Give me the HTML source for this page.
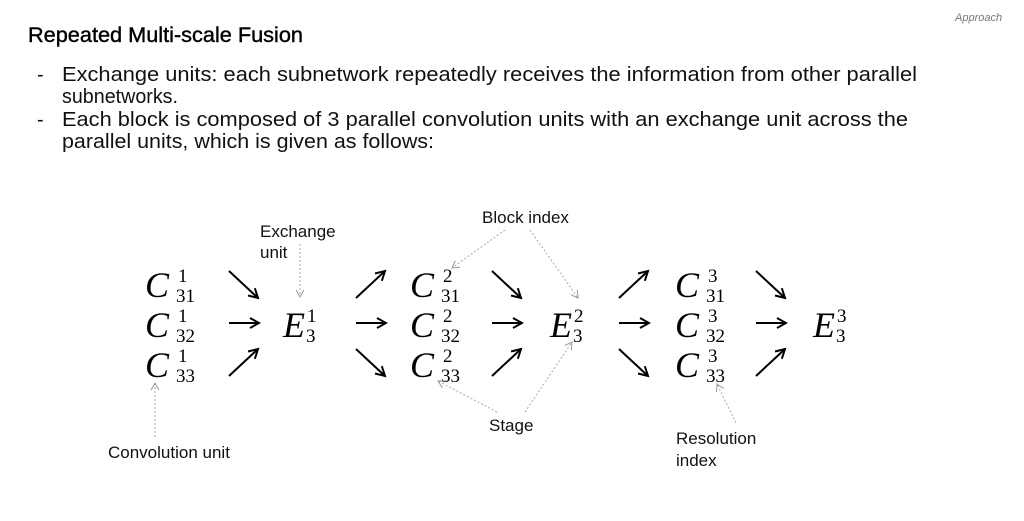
<!DOCTYPE html>
<html><head><meta charset="utf-8"><style>
html,body{margin:0;padding:0;background:#fff;width:1024px;height:521px;overflow:hidden}
svg{display:block}
.t{font-family:"Liberation Sans",sans-serif;fill:#111}
.m{font-family:"Liberation Serif","DejaVu Serif",serif;fill:#000}
.mc{font-style:italic;font-size:36px}
.ms{font-size:19px}
.a{stroke:#000;stroke-width:2;fill:none}
.d{stroke:#aaa;stroke-width:1;stroke-dasharray:2,2;fill:none}
</style></head><body>
<svg width="1024" height="521" viewBox="0 0 1024 521" xmlns="http://www.w3.org/2000/svg">
<defs>
<marker id="ah" markerWidth="12" markerHeight="12" refX="10" refY="6" orient="auto" markerUnits="userSpaceOnUse">
<path d="M1,1 L10,6 L1,11" stroke="#000" stroke-width="2" fill="none"/></marker>
<marker id="dh" markerWidth="10" markerHeight="10" refX="8" refY="5" orient="auto" markerUnits="userSpaceOnUse">
<path d="M1,1 L8,5 L1,9" stroke="#999" stroke-width="1" fill="none"/></marker>
</defs>
<text x="955" y="21" class="t" font-size="11" font-style="italic" style="fill:#777">Approach</text>
<text x="28" y="42" class="t" font-size="21" textLength="275" lengthAdjust="spacingAndGlyphs" style="fill:#000;stroke:#000;stroke-width:0.4">Repeated Multi-scale Fusion</text>
<g class="t" font-size="20">
<text x="37" y="81">-</text>
<text x="62" y="81" textLength="855" lengthAdjust="spacingAndGlyphs">Exchange units: each subnetwork repeatedly receives the information from other parallel</text>
<text x="62" y="103" textLength="116" lengthAdjust="spacingAndGlyphs">subnetworks.</text>
<text x="37" y="126">-</text>
<text x="62" y="126" textLength="846" lengthAdjust="spacingAndGlyphs">Each block is composed of 3 parallel convolution units with an exchange unit across the</text>
<text x="62" y="148" textLength="372" lengthAdjust="spacingAndGlyphs">parallel units, which is given as follows:</text>
</g>

<g class="m">
<g><text x="145" y="297" class="mc">C</text><text x="178" y="282" class="ms">1</text><text x="176" y="302" class="ms">31</text></g>
<g><text x="145" y="337" class="mc">C</text><text x="178" y="322" class="ms">1</text><text x="176" y="342" class="ms">32</text></g>
<g><text x="145" y="377" class="mc">C</text><text x="178" y="362" class="ms">1</text><text x="176" y="382" class="ms">33</text></g>
<g><text x="283" y="337" class="mc">E</text><text x="307" y="322" class="ms">1</text><text x="306" y="342" class="ms">3</text></g>
<g><text x="410" y="297" class="mc">C</text><text x="443" y="282" class="ms">2</text><text x="441" y="302" class="ms">31</text></g>
<g><text x="410" y="337" class="mc">C</text><text x="443" y="322" class="ms">2</text><text x="441" y="342" class="ms">32</text></g>
<g><text x="410" y="377" class="mc">C</text><text x="443" y="362" class="ms">2</text><text x="441" y="382" class="ms">33</text></g>
<g><text x="550" y="337" class="mc">E</text><text x="574" y="322" class="ms">2</text><text x="573" y="342" class="ms">3</text></g>
<g><text x="675" y="297" class="mc">C</text><text x="708" y="282" class="ms">3</text><text x="706" y="302" class="ms">31</text></g>
<g><text x="675" y="337" class="mc">C</text><text x="708" y="322" class="ms">3</text><text x="706" y="342" class="ms">32</text></g>
<g><text x="675" y="377" class="mc">C</text><text x="708" y="362" class="ms">3</text><text x="706" y="382" class="ms">33</text></g>
<g><text x="813" y="337" class="mc">E</text><text x="837" y="322" class="ms">3</text><text x="836" y="342" class="ms">3</text></g>
</g>

<g class="a" marker-end="url(#ah)">
<line x1="229" y1="271" x2="258" y2="298"/>
<line x1="229" y1="323" x2="259" y2="323"/>
<line x1="229" y1="376" x2="258" y2="349"/>
<line x1="356" y1="298" x2="385" y2="271"/>
<line x1="356" y1="323" x2="386" y2="323"/>
<line x1="356" y1="349" x2="385" y2="376"/>
<line x1="492" y1="271" x2="521" y2="298"/>
<line x1="492" y1="323" x2="522" y2="323"/>
<line x1="492" y1="376" x2="521" y2="349"/>
<line x1="619" y1="298" x2="648" y2="271"/>
<line x1="619" y1="323" x2="649" y2="323"/>
<line x1="619" y1="349" x2="648" y2="376"/>
<line x1="756" y1="271" x2="785" y2="298"/>
<line x1="756" y1="323" x2="786" y2="323"/>
<line x1="756" y1="376" x2="785" y2="349"/>
</g>

<g class="d" marker-end="url(#dh)">
<line x1="300" y1="244" x2="300" y2="297"/>
<line x1="505" y1="230" x2="452" y2="268"/>
<line x1="530" y1="230" x2="578" y2="298"/>
<line x1="497" y1="412" x2="438" y2="381"/>
<line x1="525" y1="412" x2="572" y2="342"/>
<line x1="155" y1="437" x2="155" y2="383"/>
<line x1="736" y1="423" x2="717" y2="384"/>
</g>

<g class="t" font-size="17">
<text x="260" y="237">Exchange</text>
<text x="260" y="258">unit</text>
<text x="482" y="223">Block index</text>
<text x="489" y="431">Stage</text>
<text x="108" y="458">Convolution unit</text>
<text x="676" y="444">Resolution</text>
<text x="676" y="466">index</text>
</g>
</svg>
</body></html>
